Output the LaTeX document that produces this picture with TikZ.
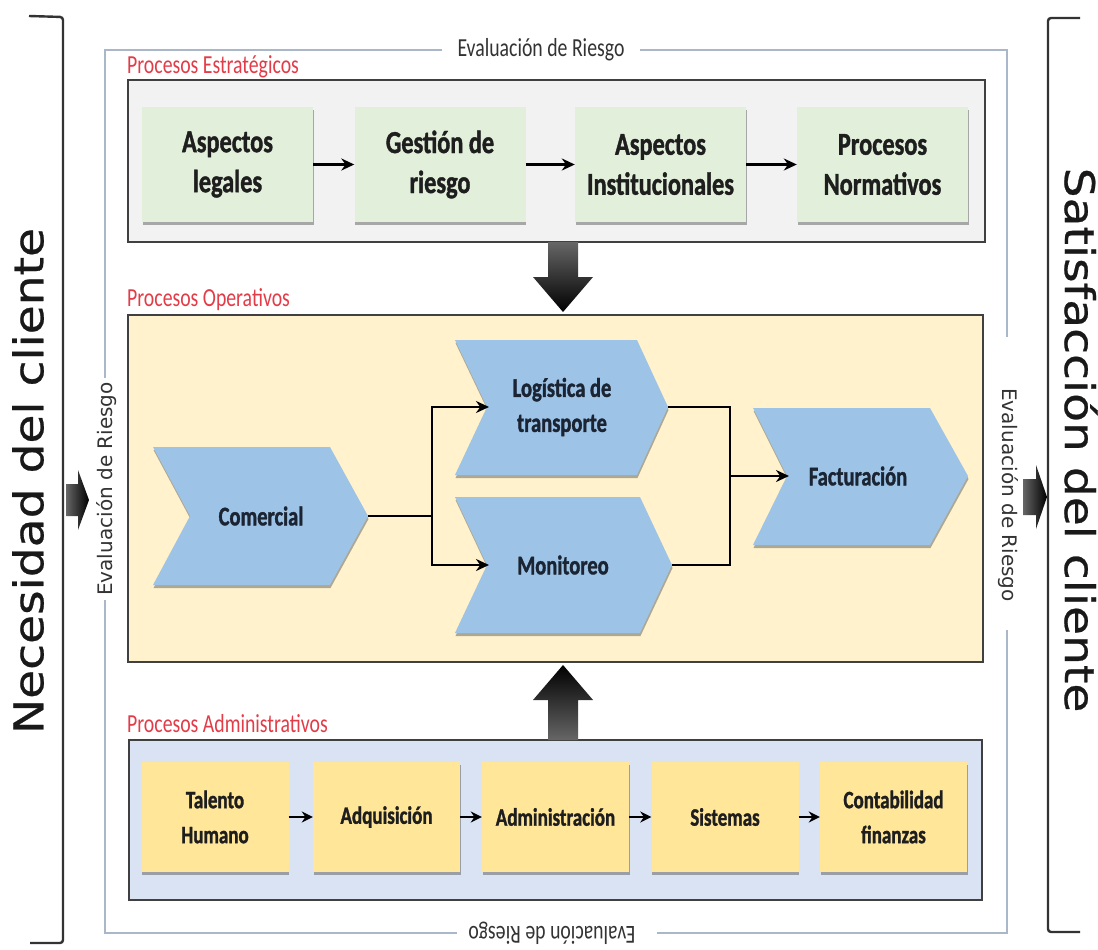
\documentclass[tikz,border=0pt]{standalone}
\usepackage{fontspec}
\setmainfont{Carlito}[FakeStretch=0.76, BoldFeatures={FakeBold=1.2}]
\newfontfamily\sidefont{DejaVu Sans}
\newfontfamily\bigfont{DejaVu Sans}[FakeStretch=1.15, FakeBold=0.6]
\usetikzlibrary{shadows,arrows.meta}
\definecolor{frameline}{HTML}{A9B7C9}
\definecolor{stratfill}{HTML}{F2F2F2}
\definecolor{greenbox}{HTML}{E2EFDA}
\definecolor{opfill}{HTML}{FFF2CC}
\definecolor{chev}{HTML}{9DC3E6}
\definecolor{admfill}{HTML}{DAE3F3}
\definecolor{yelbox}{HTML}{FFE699}
\definecolor{lblred}{HTML}{E23C48}
\definecolor{txtdark}{HTML}{1E1E1E}
\definecolor{chevtxt}{HTML}{1B2433}
\tikzset{
  shad/.style={drop shadow={shadow xshift=0.5pt, shadow yshift=-3pt, opacity=0.45, fill=black!70}},
  frame/.style={draw=black!75, line width=1.8pt, inner sep=0pt},
  gbox/.style={fill=greenbox, shad, minimum width=171pt, minimum height=115pt, inner sep=0pt,
    align=center, text=txtdark, font=\bfseries\fontsize{32}{40}\selectfont},
  ybox/.style={fill=yelbox, shad, minimum width=147pt, minimum height=110pt, inner sep=0pt,
    align=center, text=txtdark, font=\bfseries\fontsize{25}{35}\selectfont},
  chevshape/.style={fill=chev, shad},
  ctext/.style={align=center, text=chevtxt, font=\bfseries\fontsize{27}{35}\selectfont, inner sep=0pt},
  lbl/.style={text=lblred, font=\fontsize{26}{28}\selectfont, inner sep=0pt},
  outer/.style={draw=frameline, line width=1.2pt},
  evtxt/.style={text=black!80, font=\fontsize{26}{28}\selectfont, inner sep=2pt},
  sidetxt/.style={text=black!80, font=\sidefont\fontsize{20}{22}\selectfont, inner sep=2pt},
  bigtxt/.style={text=black!90, font=\bigfont\fontsize{41}{44}\selectfont, inner sep=0pt},
  conn/.style={draw=black, line width=2.6pt, -{Stealth[length=13pt,width=12pt]}},
  conns/.style={draw=black, line width=2.4pt, -{Stealth[length=11pt,width=11pt]}},
  link/.style={draw=black, line width=2.6pt},
  bracket/.style={draw=black!80, line width=2.4pt, rounded corners=3pt},
}
\begin{document}
\begin{tikzpicture}[x=1pt,y=-1pt]
\useasboundingbox (0,0) rectangle (1098,950);
\fill[white] (0,0) rectangle (1098,950);

% brackets
\draw[bracket] (29,16) -- (63,17) -- (63,943) -- (30,943);
\draw[bracket] (1080,18) -- (1048,18) -- (1048,932) -- (1080,932);

% big side texts
\node[bigtxt, rotate=90] (need) at (28,481) {Necesidad del cliente};
\node[bigtxt, rotate=-90] (sat) at (1081,440) {Satisfacción del cliente};

% side arrows
\path[left color=black!60, right color=black] (66,484) -- (78,484) -- (78,470) -- (89,500) -- (78,530) -- (78,516) -- (66,516) -- cycle;
\path[left color=black!60, right color=black] (1023,479) -- (1036,479) -- (1036,465) -- (1047,497) -- (1036,529) -- (1036,515) -- (1023,515) -- cycle;

% outer evaluation frame
\node[evtxt] (evTop) at (541,50) {Evaluación de Riesgo};
\node[evtxt, rotate=180] (evBot) at (552,933) {Evaluación de Riesgo};
\node[sidetxt, rotate=90] (evL) at (107,489) {Evaluación de Riesgo};
\node[sidetxt, rotate=-90] (evR) at (1008,495) {Evaluación de Riesgo};
\draw[outer] (442,50) -- (105,50) -- (105,378);
\draw[outer] (105,600) -- (105,933) -- (457,933);
\draw[outer] (657,933) -- (1007,933) -- (1007,630);
\draw[outer] (1007,337) -- (1007,50) -- (640,50);

% frames
\node[frame, fill=stratfill, minimum width=857pt, minimum height=162pt] (strat) at (556.5,161) {};
\node[frame, fill=opfill, minimum width=855pt, minimum height=347pt] (oper) at (555.5,488.5) {};
\node[frame, fill=admfill, minimum width=853pt, minimum height=160pt] (admin) at (555.5,820) {};

\node[lbl, anchor=base west] (lblS) at (127,74) {Procesos Estratégicos};
\node[lbl, anchor=base west] (lblO) at (127,306) {Procesos Operativos};
\node[lbl, anchor=base west] (lblA) at (127,732) {Procesos Administrativos};

% strategic boxes
\node[gbox] (s1) at (227.5,164.5) {Aspectos\\legales};
\node[gbox] (s2) at (440,164.5) {Gestión de\\riesgo};
\node[gbox] (s3) at (660.5,164.5) {Aspectos\\Institucionales};
\node[gbox] (s4) at (882.5,164.5) {Procesos\\Normativos};
\draw[conn] (s1) -- (s2);
\draw[conn] (s2) -- (s3);
\draw[conn] (s3) -- (s4);

% big vertical arrows
\path[top color=black!60, bottom color=black] (548,242) -- (578,242) -- (578,277) -- (593,277) -- (563,312) -- (533,277) -- (548,277) -- cycle;
\path[top color=black, bottom color=black!60] (548,740) -- (578,740) -- (578,700) -- (593,700) -- (563,665) -- (533,700) -- (548,700) -- cycle;

% chevrons
\path[chevshape] (153,447) -- (330,447) -- (368,516) -- (330,585) -- (153,585) -- (190,516) -- cycle;
\path[chevshape] (455,340) -- (637,340) -- (668,407) -- (637,475) -- (455,475) -- (487,407) -- cycle;
\path[chevshape] (455,497) -- (640,497) -- (672,565) -- (640,633) -- (455,633) -- (487,565) -- cycle;
\path[chevshape] (753,408) -- (930,408) -- (968,476) -- (930,545) -- (753,545) -- (787,476) -- cycle;
\node[ctext] (com) at (261,516) {Comercial};
\node[ctext] (log) at (562,407) {Logística de\\transporte};
\node[ctext] (mon) at (563,565) {Monitoreo};
\node[ctext] (fac) at (858,476) {Facturación};
\coordinate (comTip) at (368,516);
\coordinate (logNotch) at (489,407);
\coordinate (monNotch) at (489,565);
\coordinate (logTip) at (668,407);
\coordinate (monTip) at (672,565);
\coordinate (facNotch) at (789,476);
\coordinate (split) at (432,516);
\coordinate (join) at (730,476);
\draw[link] (comTip) -- (split);
\draw[conn] (split) |- (logNotch);
\draw[conn] (split) |- (monNotch);
\draw[link] (logTip) -| (join);
\draw[link] (monTip) -| (join);
\draw[conn] (join) -- (facNotch);

% administrative boxes
\node[ybox] (a1) at (215,817) {Talento\\Humano};
\node[ybox] (a2) at (386.5,817) {Adquisición};
\node[ybox] (a3) at (555.5,817) {Administración};
\node[ybox] (a4) at (725,817) {Sistemas};
\node[ybox] (a5) at (893.5,817) {Contabilidad\\finanzas};
\draw[conns] (a1) -- (a2);
\draw[conns] (a2) -- (a3);
\draw[conns] (a3) -- (a4);
\draw[conns] (a4) -- (a5);
\end{tikzpicture}
\end{document}
